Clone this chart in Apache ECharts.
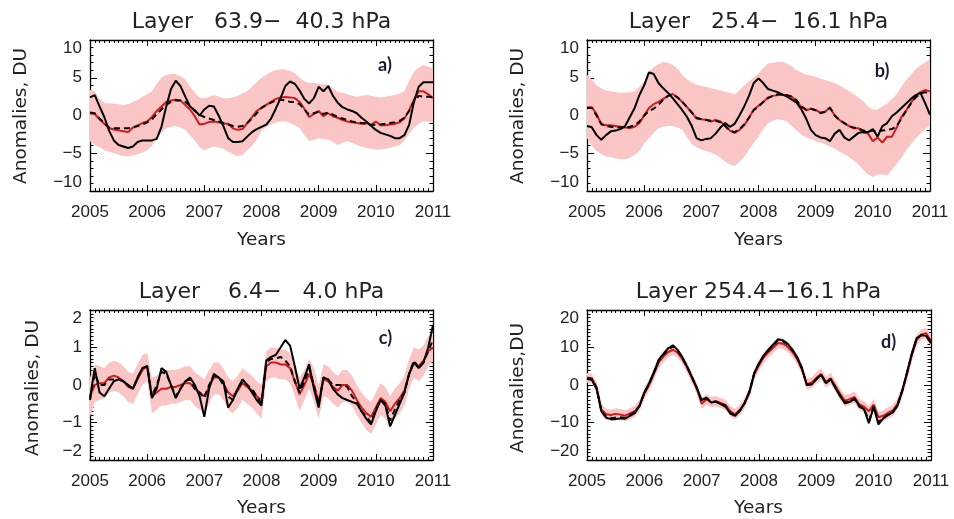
<!DOCTYPE html>
<html>
<head>
<meta charset="utf-8">
<script src="https://cdn.jsdelivr.net/npm/echarts@6/dist/echarts.min.js"></script>
<style>
  html, body { margin: 0; padding: 0; background: #fff; }
  #chart { width: 954px; height: 519px; }
</style>
</head>
<body>
<div id="chart"></div>
<script>
// Monthly time axis, Jan 2005 .. Jan 2011 (decimal years)
const months = [];
for (let i = 0; i <= 72; i++) months.push(2005 + i / 12);

const yearTicks = [2005, 2006, 2007, 2008, 2009, 2010, 2011];

// ---- Layer 63.9 - 40.3 hPa ----
const aSolid = [
  2.4, 2.7, 1.2, -0.2, -2.0, -3.3, -3.9, -4.1, -4.3, -4.1, -3.5, -3.3,
  -3.3, -3.3, -3.1, -1.5, 1.2, 3.5, 4.6, 3.9, 2.5, 1.2, 0.7, 0.0,
  0.8, 1.3, 1.2, 0.0, -1.4, -3.0, -3.5, -3.5, -3.4, -2.8, -2.2, -1.8,
  -1.5, -1.2, -0.4, 0.9, 2.3, 3.9, 4.5, 4.2, 3.3, 2.2, 1.6, 2.3,
  3.8, 3.2, 3.9, 2.6, 1.7, 1.1, 0.8, 0.6, 0.3, -0.3, -0.8, -1.4,
  -1.9, -2.3, -2.5, -2.7, -3.0, -3.0, -2.6, -1.2, 1.8, 3.8, 4.4, 4.4,
  4.4
];
const aRed = [
  0.3, 0.2, -0.5, -1.1, -1.65, -1.85, -1.95, -2.1, -2.2, -1.6, -1.3, -1.0,
  -0.8, -0.2, 0.6, 1.2, 1.8, 2.0, 2.1, 2.0, 1.4, 0.8, -0.1, -1.2,
  -1.1, -0.85, -0.8, -0.9, -1.1, -1.1, -1.7, -1.9, -1.8, -1.0, -0.2, 0.6,
  1.0, 1.4, 1.8, 2.2, 2.4, 2.45, 2.4, 2.3, 1.8, 0.9, -0.2, 0.2,
  0.6, -0.1, 0.3, -0.1, -0.3, -0.6, -0.8, -0.9, -1.0, -1.1, -1.0, -1.2,
  -0.8, -1.3, -1.3, -1.2, -1.1, -0.9, -0.4, 0.7, 2.1, 3.2, 3.2, 2.8,
  2.3
];
const aDash = [
  0.4, 0.3, -0.4, -1.0, -1.6, -1.7, -1.7, -1.7, -1.7, -1.6, -1.4, -1.2,
  -0.9, -0.5, 0.2, 0.8, 1.4, 1.8, 2.0, 2.0, 1.8, 1.3, 0.6, 0.1,
  -0.2, -0.4, -0.6, -0.8, -1.0, -1.2, -1.4, -1.5, -1.4, -1.0, -0.4, 0.3,
  1.0, 1.4, 1.7, 2.0, 2.1, 2.0, 1.8, 1.8, 1.5, 0.8, 0.1, 0.3,
  0.5, 0.2, 0.4, 0.1, -0.2, -0.4, -0.6, -0.8, -0.9, -1.0, -1.1, -1.3,
  -1.2, -1.2, -1.1, -1.0, -0.9, -0.7, -0.3, 0.6, 1.8, 2.6, 2.5, 2.5,
  2.4
];
const aHigh = [
  3.4, 3.2, 2.2, 1.7, 1.6, 1.6, 1.5, 1.4, 1.5, 1.8, 2.1, 2.5,
  2.8, 3.2, 4.2, 5.0, 5.4, 5.5, 5.5, 5.2, 4.8, 3.8, 3.0, 2.4,
  2.3, 2.5, 2.7, 2.5, 2.3, 2.3, 2.4, 2.6, 2.9, 3.2, 3.8, 4.4,
  5.0, 5.4, 5.8, 6.0, 6.1, 6.1, 5.9, 5.6, 5.0, 4.5, 4.3, 4.3,
  4.2, 4.1, 4.1, 3.6, 3.1, 3.0, 2.8, 2.6, 2.5, 2.6, 2.7, 2.6,
  2.5, 2.4, 2.5, 2.6, 2.7, 2.9, 3.2, 4.6, 5.8, 6.4, 6.7, 6.5,
  6.2
];
const aLow = [
  -3.4, -3.9, -4.2, -4.6, -4.8, -5.0, -5.2, -5.4, -5.4, -5.3, -5.1, -4.9,
  -4.6, -4.0, -3.0, -2.3, -1.7, -1.5, -1.4, -1.6, -1.9, -2.6, -3.3, -4.2,
  -4.6, -4.3, -4.1, -4.2, -4.4, -4.8, -5.1, -5.4, -5.2, -4.6, -4.0, -3.2,
  -2.0, -1.5, -1.2, -0.9, -0.8, -0.8, -1.0, -1.3, -1.7, -2.6, -3.4, -3.2,
  -3.0, -3.1, -3.2, -3.5, -3.9, -3.6, -3.4, -3.6, -3.9, -4.1, -4.3, -4.4,
  -4.5, -4.5, -4.4, -4.3, -4.1, -3.9, -3.3, -2.4, -1.6, -1.1, -0.8, -0.8,
  -1.0
];

// ---- Layer 25.4 - 16.1 hPa ----
const bSolid = [
  -1.4, -1.55, -2.6, -3.2, -2.6, -2.1, -2.0, -1.8, -1.4, -0.2, 1.0, 2.7,
  4.0, 5.7, 5.5, 4.3, 3.6, 3.0, 2.3, 1.5, 0.7, -0.2, -1.4, -3.0,
  -3.3, -3.1, -3.0, -2.4, -1.6, -1.0, -1.5, -1.1, 0.0, 1.2, 2.6, 4.3,
  4.9, 4.3, 3.5, 3.3, 3.1, 2.8, 2.5, 2.1, 1.7, 0.8, -0.4, -1.9,
  -2.6, -2.9, -3.0, -3.4, -2.4, -1.9, -2.9, -3.3, -2.8, -2.3, -2.2, -2.2,
  -1.8, -2.8, -1.4, -1.0, -0.1, 0.4, 1.0, 1.6, 2.2, 2.7, 3.0, 1.6,
  0.1
];
const bRed = [
  1.1, 1.1, 0.2, -1.2, -1.3, -1.3, -1.4, -1.5, -1.6, -1.65, -1.5, -1.0,
  0.0, 1.0, 1.5, 1.8, 2.2, 2.6, 2.85, 2.4, 1.8, 1.1, 0.4, -0.4,
  -0.5, -0.55, -0.8, -0.6, -0.8, -1.3, -2.0, -2.3, -1.9, -1.3, -0.3, 0.8,
  1.3, 1.8, 2.4, 2.6, 2.7, 2.7, 2.7, 2.5, 1.9, 1.1, 0.7, 0.9,
  0.7, 0.4, 0.5, 1.1, 0.0, -0.6, -1.0, -1.4, -1.7, -1.7, -2.3, -2.4,
  -3.4, -2.9, -3.6, -2.8, -2.8, -1.6, -0.2, 0.7, 1.7, 2.5, 3.1, 3.4,
  3.2
];
const bDash = [
  1.0, 1.0, 0.0, -1.1, -1.4, -1.5, -1.6, -1.6, -1.6, -1.5, -1.3, -0.8,
  0.0, 0.6, 0.9, 1.4, 2.1, 2.6, 2.8, 2.4, 1.8, 1.1, 0.4, -0.3,
  -0.5, -0.6, -0.7, -0.7, -0.9, -1.4, -2.0, -2.2, -1.8, -1.2, -0.3, 0.7,
  1.2, 1.8, 2.3, 2.6, 2.8, 2.8, 2.7, 2.5, 2.0, 1.2, 0.8, 0.9,
  0.7, 0.3, 0.5, 1.0, 0.0, -0.6, -1.0, -1.4, -1.6, -1.7, -2.0, -2.1,
  -2.0, -2.1, -2.0, -1.9, -1.8, -1.4, -0.4, 0.6, 1.6, 2.4, 2.9, 3.1,
  2.9
];
const bHigh = [
  5.4, 4.8, 4.0, 3.6, 3.3, 3.2, 3.1, 3.0, 3.0, 3.1, 3.2, 3.8,
  4.5, 5.9, 6.4, 6.8, 7.1, 7.0, 6.7, 6.2, 5.4, 4.8, 4.4, 4.1,
  3.9, 3.8, 3.6, 3.5, 3.3, 3.1, 3.0, 2.8, 3.3, 4.0, 4.5, 5.0,
  5.6, 6.3, 6.9, 7.0, 7.1, 7.1, 6.9, 6.5, 6.0, 5.7, 5.4, 5.3,
  5.1, 4.9, 4.7, 4.5, 4.3, 4.0, 3.6, 3.2, 2.8, 2.4, 1.9, 1.2,
  0.8, 0.8, 1.2, 1.6, 2.2, 2.8, 3.8, 4.7, 5.4, 6.2, 6.6, 7.1,
  7.4
];
const bLow = [
  -3.0, -4.0, -4.7, -5.1, -5.4, -5.5, -5.7, -5.8, -5.8, -5.6, -5.2, -4.7,
  -3.7, -3.0, -2.3, -1.7, -1.5, -1.4, -1.4, -1.6, -1.9, -2.9, -3.8, -4.2,
  -4.5, -4.7, -4.9, -5.2, -5.6, -6.1, -6.5, -6.7, -6.1, -5.5, -4.5, -3.6,
  -2.8, -1.8, -1.0, -0.7, -0.5, -0.6, -0.8, -1.4, -2.0, -2.5, -2.9, -3.1,
  -3.4, -3.6, -3.8, -4.1, -4.4, -4.8, -5.1, -5.5, -6.0, -6.5, -7.2, -7.8,
  -8.1, -7.8, -7.8, -7.9, -7.2, -6.4, -5.6, -4.6, -3.8, -3.0, -2.4, -1.8,
  -1.3
];

// ---- Layer 6.4 - 4.0 hPa ----
const cSolid = [
  -0.35, 0.45, -0.2, -0.3, -0.1, 0.1, 0.15, 0.1, 0.0, -0.1, 0.2, 0.45,
  0.5, -0.35, -0.1, 0.45, 0.35, 0.0, -0.35, -0.1, 0.1, 0.2, 0.0, -0.3,
  -0.85, -0.1, 0.3, 0.2, 0.1, -0.6, -0.4, -0.1, 0.15, 0.0, -0.2, -0.4,
  -0.55, 0.65, 0.75, 0.8, 1.0, 1.2, 1.05, 0.5, -0.1, 0.2, 0.55, -0.1,
  -0.6, 0.2, 0.15, -0.1, -0.25, -0.35, -0.4, -0.45, -0.5, -0.7, -0.9, -1.05,
  -0.7, -0.4, -0.55, -1.1, -0.8, -0.5, -0.2, 0.3, 0.6, 0.45, 0.6, 1.0,
  1.6
];
const cRed = [
  -0.3, 0.0, 0.05, 0.05, 0.2, 0.25, 0.2, 0.1, -0.05, -0.1, 0.15, 0.4,
  0.5, -0.3, -0.2, -0.1, -0.1, -0.05, -0.05, 0.0, 0.05, 0.05, -0.1, -0.2,
  -0.3, -0.05, 0.2, 0.2, 0.05, -0.2, -0.3, -0.15, 0.05, -0.05, -0.15, -0.3,
  -0.4, 0.5, 0.6, 0.6, 0.55, 0.55, 0.45, 0.1, -0.25, 0.0, 0.3, 0.0,
  -0.45, 0.15, 0.1, -0.05, -0.15, 0.0, 0.0, -0.15, -0.4, -0.6, -0.75, -0.85,
  -0.6, -0.35, -0.45, -0.7, -0.5, -0.35, -0.15, 0.3, 0.6, 0.5, 0.65, 0.9,
  1.0
];
const cDash = [
  -0.4, 0.3, 0.0, 0.0, 0.15, 0.15, 0.15, 0.1, 0.0, -0.1, 0.2, 0.45,
  0.5, -0.3, 0.0, 0.35, 0.3, 0.0, -0.3, -0.1, 0.1, 0.15, -0.1, -0.2,
  -0.35, 0.0, 0.25, 0.2, 0.0, -0.3, -0.4, -0.1, 0.1, 0.0, -0.1, -0.3,
  -0.5, 0.6, 0.7, 0.7, 0.75, 0.65, 0.5, 0.1, -0.2, 0.1, 0.45, 0.0,
  -0.5, 0.2, 0.15, 0.0, 0.0, 0.0, -0.05, -0.3, -0.45, -0.7, -0.85, -1.0,
  -0.65, -0.4, -0.5, -0.95, -0.65, -0.4, -0.2, 0.3, 0.65, 0.45, 0.6, 0.9,
  1.2
];
const cHigh = [
  0.2, 0.55, 0.5, 0.45, 0.6, 0.65, 0.6, 0.5, 0.35, 0.3, 0.55, 0.8,
  0.85, 0.2, 0.25, 0.35, 0.4, 0.4, 0.4, 0.45, 0.5, 0.5, 0.35, 0.25,
  0.15, 0.4, 0.6, 0.6, 0.45, 0.2, 0.1, 0.25, 0.45, 0.35, 0.25, 0.1,
  0.0, 0.9, 1.0, 1.0, 0.95, 0.95, 0.85, 0.5, 0.2, 0.4, 0.7, 0.45,
  0.0, 0.55, 0.5, 0.35, 0.25, 0.4, 0.4, 0.25, 0.0, -0.2, -0.35, -0.45,
  -0.2, 0.05, -0.05, -0.3, -0.1, 0.05, 0.25, 0.7, 1.0, 0.95, 1.05, 1.3,
  1.4
];
const cLow = [
  -0.85, -0.45, -0.4, -0.35, -0.2, -0.15, -0.2, -0.3, -0.45, -0.5, -0.25, 0.0,
  0.1, -0.75, -0.65, -0.55, -0.55, -0.5, -0.5, -0.45, -0.4, -0.4, -0.55, -0.65,
  -0.75, -0.5, -0.25, -0.25, -0.4, -0.65, -0.75, -0.6, -0.4, -0.5, -0.6, -0.75,
  -0.9, 0.1, 0.2, 0.2, 0.15, 0.15, 0.05, -0.3, -0.7, -0.4, -0.1, -0.45,
  -0.9, -0.3, -0.35, -0.5, -0.6, -0.45, -0.45, -0.55, -0.8, -1.0, -1.2, -1.3,
  -1.05, -0.8, -0.9, -1.15, -0.9, -0.75, -0.55, -0.1, 0.2, 0.1, 0.25, 0.5,
  0.65
];

// ---- Layer 254.4 - 16.1 hPa ----
const dSolid = [
  1.6, 1.4, -1.0, -7.0, -8.7, -9.1, -9.1, -8.9, -9.0, -8.2, -7.5, -5.5,
  -2.0, 0.5, 3.4, 6.7, 8.3, 9.8, 10.6, 9.3, 7.3, 4.8, 2.0, -0.8,
  -4.0, -3.4, -4.7, -4.5, -5.1, -5.8, -7.6, -8.2, -6.9, -4.8, -1.8, 3.2,
  5.8, 7.9, 9.4, 10.8, 12.2, 11.9, 11.0, 9.4, 7.4, 4.4, 0.0, 0.1,
  1.5, 2.7, 0.5, 1.5, -0.8, -3.0, -4.9, -4.5, -3.7, -5.5, -6.5, -10.2,
  -5.8, -10.5, -8.9, -8.0, -7.3, -5.5, -1.5, 3.5, 8.5, 12.5, 13.3, 13.1,
  11.1
];
const dRed = [
  2.0, 1.8, -0.5, -6.5, -7.8, -8.0, -7.7, -7.9, -8.2, -7.6, -7.0, -5.5,
  -2.3, 0.0, 3.0, 6.0, 7.6, 8.8, 9.4, 8.6, 6.8, 4.5, 1.8, -1.0,
  -5.0, -3.8, -4.6, -4.3, -4.8, -5.3, -7.0, -7.8, -6.6, -4.8, -2.0, 2.8,
  5.3, 7.4, 8.8, 10.0, 11.2, 11.0, 10.2, 8.8, 6.9, 4.2, 0.3, 0.6,
  1.9, 2.9, 0.8, 1.8, -0.3, -2.4, -4.2, -3.8, -3.2, -5.2, -5.8, -7.0,
  -5.2, -8.6, -8.2, -7.4, -6.8, -5.0, -1.5, 3.0, 8.0, 12.0, 13.5, 13.8,
  11.8
];
const dDash = [
  1.8, 1.6, -0.8, -6.8, -8.4, -8.8, -8.7, -8.6, -8.8, -8.0, -7.3, -5.5,
  -2.1, 0.3, 3.3, 6.5, 8.1, 9.5, 10.3, 9.1, 7.1, 4.7, 2.0, -0.8,
  -4.3, -3.5, -4.6, -4.4, -5.0, -5.6, -7.4, -8.1, -6.8, -4.8, -1.8, 3.1,
  5.7, 7.8, 9.3, 10.6, 12.0, 11.7, 10.8, 9.3, 7.3, 4.4, 0.1, 0.3,
  1.6, 2.8, 0.6, 1.6, -0.7, -2.9, -4.7, -4.3, -3.6, -5.8, -6.4, -9.5,
  -5.7, -10.0, -8.8, -7.9, -7.2, -5.3, -1.5, 3.4, 8.3, 12.4, 13.3, 13.2,
  11.3
];
const dHigh = [
  3.2, 3.0, 0.8, -5.0, -6.3, -6.5, -6.2, -6.4, -6.7, -6.1, -5.5, -4.0,
  -0.8, 1.5, 4.5, 7.5, 9.0, 10.1, 10.6, 9.8, 8.1, 5.9, 3.2, 0.4,
  -3.6, -2.4, -3.2, -2.9, -3.4, -3.9, -5.6, -6.4, -5.2, -3.4, -0.6, 4.2,
  6.7, 8.8, 10.2, 11.4, 12.6, 12.4, 11.6, 10.2, 8.3, 5.6, 1.8, 2.1,
  3.4, 4.4, 2.3, 3.3, 1.2, -0.9, -2.7, -2.3, -1.7, -3.7, -4.3, -5.5,
  -3.7, -7.1, -6.7, -5.9, -5.3, -3.5, 0.0, 4.5, 9.5, 13.4, 14.9, 15.2,
  13.2
];
const dLow = [
  0.6, 0.4, -2.0, -8.0, -9.3, -9.5, -9.3, -9.4, -9.7, -9.1, -8.5, -7.0,
  -3.8, -1.5, 1.5, 4.5, 6.1, 7.4, 8.1, 7.3, 5.5, 3.1, 0.4, -2.4,
  -6.4, -5.2, -6.0, -5.7, -6.2, -6.7, -8.4, -9.2, -8.0, -6.2, -3.4, 1.4,
  3.9, 6.0, 7.4, 8.6, 9.8, 9.6, 8.8, 7.4, 5.5, 2.8, -1.2, -0.9,
  0.4, 1.4, -0.7, 0.3, -1.8, -3.9, -5.7, -5.3, -4.7, -6.7, -7.3, -8.5,
  -6.7, -10.1, -9.7, -8.9, -8.3, -6.5, -3.0, 1.5, 6.5, 10.6, 12.1, 12.4,
  10.4
];

// Panel definitions (axis ranges, text, and which arrays feed each panel)
const panels = [
  { box: { left: 90, top: 40, width: 343, height: 151 }, yMax: 10, yStep: 5, yMinor: 5,
    title: 'Layer   63.9\u2212  40.3 hPa', yName: 'Anomalies, DU', tag: 'a)',
    titlePos: [261.5, 22], yNamePos: [21, 116], yearsPos: [261.5, 240], tagPos: [385, 65],
    solid: aSolid, red: aRed, dash: aDash, hi: aHigh, lo: aLow },
  { box: { left: 587, top: 40, width: 343, height: 151 }, yMax: 10, yStep: 5, yMinor: 5,
    title: 'Layer   25.4\u2212  16.1 hPa', yName: 'Anomalies, DU', tag: 'b)',
    titlePos: [758.5, 22], yNamePos: [518, 116], yearsPos: [758.5, 240], tagPos: [882, 71],
    solid: bSolid, red: bRed, dash: bDash, hi: bHigh, lo: bLow },
  { box: { left: 90, top: 310, width: 343, height: 150 }, yMax: 2, yStep: 1, yMinor: 10,
    title: 'Layer    6.4\u2212   4.0 hPa', yName: 'Anomalies, DU', tag: 'c)',
    titlePos: [261.5, 292], yNamePos: [33, 388], yearsPos: [261.5, 508], tagPos: [385.5, 338],
    solid: cSolid, red: cRed, dash: cDash, hi: cHigh, lo: cLow },
  { box: { left: 587, top: 310, width: 344, height: 150 }, yMax: 20, yStep: 10, yMinor: 10,
    title: 'Layer 254.4\u221216.1 hPa', yName: 'Anomalies,DU', tag: 'd)',
    titlePos: [758.5, 292], yNamePos: [518, 388], yearsPos: [758.5, 508], tagPos: [888.5, 342],
    solid: dSolid, red: dRed, dash: dDash, hi: dHigh, lo: dLow }
];

panels.forEach((p, k) => {
  ['solid', 'red', 'dash', 'hi', 'lo'].forEach(n => {
    if (p[n].length !== months.length) throw new Error('panel ' + k + ' ' + n + ' has ' + p[n].length);
  });
});

const INK = '#000';
const TEXT = '#222';
const BAND = '#f9c5c5';
const RED = '#d21a1a';

const lineAxis = { show: true, onZero: false, lineStyle: { color: INK, width: 1.3 } };
const tickStyle = { color: INK, width: 1 };

const grids = [], xAxes = [], yAxes = [], series = [], graphics = [];

function textEl(x, y, text, font, extra) {
  return Object.assign({
    type: 'text', x: x, y: y, silent: true,
    style: { text: text, font: font, fill: TEXT,
             align: 'center', verticalAlign: 'middle',
             textAlign: 'center', textVerticalAlign: 'middle' }
  }, extra || {});
}

panels.forEach((p, k) => {
  grids.push(Object.assign({ containLabel: false }, p.box));

  const xBase = {
    type: 'value', gridIndex: k, min: 2005, max: 2011, interval: 1,
    axisLine: lineAxis,
    axisTick: { show: true, inside: true, length: 6, lineStyle: tickStyle },
    minorTick: { show: true, splitNumber: 12, length: 3, lineStyle: tickStyle },
    splitLine: { show: false }, minorSplitLine: { show: false }
  };
  xAxes.push(Object.assign({}, xBase, {
    position: 'bottom',
    axisLabel: { show: true, margin: 13, color: TEXT, fontFamily: 'Liberation Sans', fontSize: 17,
                 formatter: v => (yearTicks.indexOf(Math.round(v)) >= 0 ? String(Math.round(v)) : '') }
  }));
  xAxes.push(Object.assign({}, xBase, { position: 'top', axisLabel: { show: false } }));

  const yBase = {
    type: 'value', gridIndex: k, min: -p.yMax, max: p.yMax, interval: p.yStep,
    axisLine: lineAxis,
    axisTick: { show: true, inside: true, length: 7, lineStyle: tickStyle },
    minorTick: { show: true, splitNumber: p.yMinor, length: 3.5, lineStyle: tickStyle },
    splitLine: { show: false }, minorSplitLine: { show: false }
  };
  yAxes.push(Object.assign({}, yBase, {
    position: 'left',
    axisLabel: { show: true, margin: 8, color: TEXT, fontFamily: 'Liberation Sans', fontSize: 17,
                 verticalAlignMaxLabel: 'top', verticalAlignMinLabel: 'bottom',
                 formatter: v => String(v).replace('-', '\u2212') }
  }));
  yAxes.push(Object.assign({}, yBase, { position: 'right', axisLabel: { show: false } }));

  const xi = 2 * k, yi = 2 * k;

  // shaded spread between the low and high envelopes
  series.push({
    type: 'custom', xAxisIndex: xi, yAxisIndex: yi, silent: true, z: 1,
    data: months.map((t, i) => [t, p.lo[i], p.hi[i]]),
    encode: { x: 0, y: [1, 2] },
    renderItem: function (params, api) {
      if (params.dataIndex !== 0) return null;
      const pts = [];
      for (let i = 0; i < months.length; i++) pts.push(api.coord([months[i], p.hi[i]]));
      for (let i = months.length - 1; i >= 0; i--) pts.push(api.coord([months[i], p.lo[i]]));
      return { type: 'polygon', shape: { points: pts }, style: { fill: BAND, stroke: null } };
    }
  });
  series.push({
    type: 'line', xAxisIndex: xi, yAxisIndex: yi, z: 3, symbol: 'none', silent: true,
    data: months.map((t, i) => [t, p.red[i]]),
    lineStyle: { color: RED, width: 2 }
  });
  series.push({
    type: 'line', xAxisIndex: xi, yAxisIndex: yi, z: 4, symbol: 'none', silent: true,
    data: months.map((t, i) => [t, p.dash[i]]),
    lineStyle: { color: INK, width: 2, type: [6, 4] }
  });
  series.push({
    type: 'line', xAxisIndex: xi, yAxisIndex: yi, z: 5, symbol: 'none', silent: true,
    data: months.map((t, i) => [t, p.solid[i]]),
    lineStyle: { color: INK, width: 2 }
  });

  graphics.push(textEl(p.titlePos[0], p.titlePos[1], p.title, '22px "DejaVu Sans"'));
  graphics.push(textEl(p.yearsPos[0], p.yearsPos[1], 'Years', '18.5px "DejaVu Sans"'));
  graphics.push(textEl(p.yNamePos[0], p.yNamePos[1], p.yName, '18.5px "DejaVu Sans"', { rotation: Math.PI / 2 }));
  const tag = textEl(p.tagPos[0], p.tagPos[1], p.tag, 'bold 18px Lato');
  tag.style.fill = '#1b1d33';
  tag.z = 100;
  graphics.push(tag);
});

const chart = echarts.init(document.getElementById('chart'), null, { renderer: 'canvas' });
chart.setOption({
  backgroundColor: '#fff',
  animation: false,
  grid: grids,
  xAxis: xAxes,
  yAxis: yAxes,
  series: series,
  graphic: { elements: graphics }
});
</script>
</body>
</html>
